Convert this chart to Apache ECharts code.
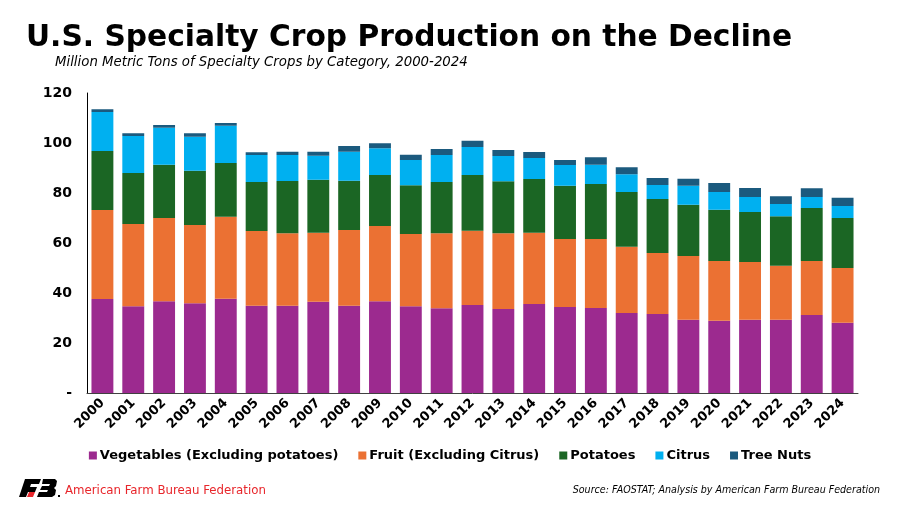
<!DOCTYPE html>
<html>
<head>
<meta charset="utf-8">
<script src="https://cdn.jsdelivr.net/npm/echarts@6/dist/echarts.min.js"></script>
<style>
html,body{margin:0;padding:0;background:#fff;}
#c{width:900px;height:506px;}
</style>
</head>
<body>
<div id="c"></div>
<script>
const years = ['2000','2001','2002','2003','2004','2005','2006','2007','2008','2009','2010','2011','2012','2013','2014','2015','2016','2017','2018','2019','2020','2021','2022','2023','2024'];
const vegetables = [37.6,34.7,36.7,35.9,37.7,34.9,34.9,36.5,34.9,36.7,34.7,33.9,35.2,33.6,35.6,34.4,34.0,32.0,31.6,29.3,28.9,29.3,29.3,31.2,28.1];
const fruit = [35.6,32.9,33.3,31.3,32.8,29.9,29.0,27.6,30.3,30.1,28.9,30.0,29.7,30.3,28.5,27.2,27.6,26.5,24.4,25.5,23.9,23.1,21.6,21.6,21.9];
const potatoes = [23.6,20.4,21.3,21.7,21.5,19.6,20.9,21.2,19.7,20.4,19.5,20.5,22.3,20.8,21.5,21.3,22.0,21.9,21.6,20.5,20.5,20.0,19.8,21.2,20.0];
const citrus = [15.6,14.8,14.8,13.6,14.9,10.8,10.4,9.6,11.6,10.7,10.1,10.8,11.2,10.1,8.4,8.3,7.7,7.1,5.6,7.6,7.1,6.0,4.9,4.4,4.8];
const treeNuts = [1.1,1.1,1.1,1.4,1.1,1.1,1.3,1.6,2.3,2.0,2.1,2.4,2.5,2.4,2.4,2.0,3.0,2.8,2.8,2.8,3.6,3.6,3.1,3.5,3.3];
const seriesNames = ['Vegetables (Excluding potatoes)','Fruit (Excluding Citrus)','Potatoes','Citrus','Tree Nuts'];
const colors = ['#9C2A8F','#EB7133','#1B6624','#00B0F0','#1B5A7E'];
const yTicks = ['-','20','40','60','80','100','120'];

const chart = echarts.init(document.getElementById('c'));
const dataSets = [vegetables, fruit, potatoes, citrus, treeNuts];
const series = dataSets.map((d,i)=>({
  name: seriesNames[i],
  type: 'bar',
  stack: 'total',
  data: d,
  barWidth: '71%',
  itemStyle: {color: colors[i]},
  emphasis: {disabled: true}
}));

chart.setOption({
  animation: false,
  color: colors,
  title: [{
    text: 'U.S. Specialty Crop Production on the Decline',
    left: 26, top: 23, padding: 0,
    textStyle: {fontFamily: 'DejaVu Sans', fontWeight: 'bold', fontSize: 29.7, color: '#000'}
  },{
    text: 'Million Metric Tons of Specialty Crops by Category, 2000-2024',
    left: 55, top: 56, padding: 0,
    textStyle: {fontFamily: 'DejaVu Sans', fontStyle: 'italic', fontWeight: 'normal', fontSize: 13.3, color: '#000'}
  },{
    text: 'Source: FAOSTAT; Analysis by American Farm Bureau Federation',
    right: 20, top: 485, padding: 0,
    textStyle: {fontFamily: 'DejaVu Sans Condensed', fontStyle: 'italic', fontWeight: 'normal', fontSize: 10.6, color: '#000'}
  },{
    text: 'American Farm Bureau Federation',
    left: 65, top: 484, padding: 0,
    textStyle: {fontFamily: 'DejaVu Sans Condensed', fontWeight: 'normal', fontSize: 13.1, color: '#E8262B'}
  }],
  legend: {
    data: seriesNames,
    top: 449, left: 'center', padding: 0,
    itemWidth: 8, itemHeight: 8, itemGap: 20,
    icon: 'rect',
    textStyle: {fontFamily: 'DejaVu Sans', fontWeight: 'bold', fontSize: 13, color: '#000', padding: [0,0,0,-2]}
  },
  grid: {left: 87, right: 42, top: 93, bottom: 113},
  xAxis: {
    type: 'category',
    data: years,
    axisLine: {lineStyle: {color: '#404040', width: 1}},
    axisTick: {show: false},
    axisLabel: {rotate: 45, interval: 0, fontFamily: 'DejaVu Sans', fontWeight: 'bold', fontSize: 13, color: '#000', margin: 8}
  },
  yAxis: {
    type: 'value',
    min: 0, max: 120, interval: 20,
    axisLine: {show: true, lineStyle: {color: '#000', width: 1}},
    axisTick: {show: false},
    splitLine: {show: false},
    axisLabel: {
      fontFamily: 'DejaVu Sans', fontWeight: 'bold', fontSize: 14, color: '#000', margin: 15,
      formatter: (v)=> yTicks[Math.round(v/20)]
    }
  },
  graphic: [{
    type: 'group', left: 19, top: 479,
    children: [
      {type: 'polygon', shape: {points: [[4,0],[20,0],[18,5],[10,5],[9,8],[16,8],[14,13],[7,13],[5,18],[-2,18]]}, style: {fill: '#000'}},
      {type: 'polygon', shape: {points: [[8,13],[14,13],[12,18],[6,18]]}, style: {fill: '#E8262B'}},
      {type: 'polygon', shape: {points: [[22,0],[34,0],[36,2],[35,7],[33,9],[35,11],[34,16],[31,18],[16,18],[18,13],[26,13],[27,11],[19,11],[21,7],[28,7],[29,5],[21,5]]}, style: {fill: '#000'}},
      {type: 'rect', shape: {x: 37, y: 16, width: 2, height: 2}, style: {fill: '#000'}}
    ]
  }],
  series: series
});
</script>
</body>
</html>
